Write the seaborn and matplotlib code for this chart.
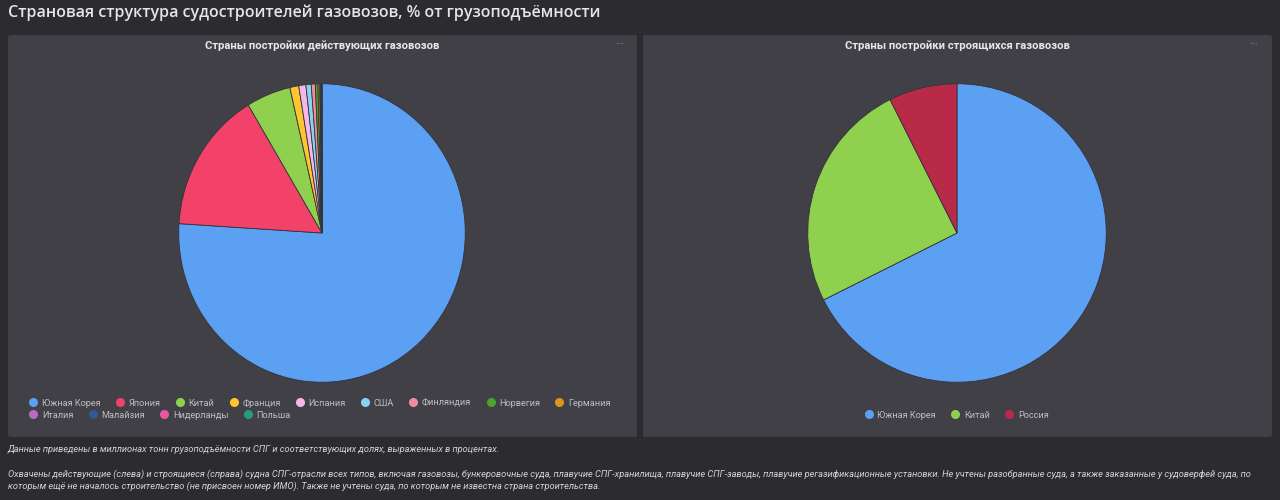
import matplotlib
matplotlib.use("Agg")
import matplotlib.pyplot as plt
import seaborn as sns
from matplotlib.patches import FancyBboxPatch
from matplotlib.lines import Line2D

# ---------------- data ----------------
left_countries = ["Южная Корея", "Япония", "Китай", "Франция", "Испания", "США",
                  "Финляндия", "Норвегия", "Германия", "Италия", "Малайзия",
                  "Нидерланды", "Польша"]
left_values = [76.0, 15.4, 5.0, 1.0, 0.8, 0.6, 0.45, 0.3, 0.2, 0.12, 0.08, 0.03, 0.02]
left_colors = ["#5ba0f2", "#f3426a", "#8fd14f", "#fec52f", "#f7b6e6", "#88d3f4",
               "#f28d9e", "#4ca22b", "#d9961a", "#b56dc4", "#2e5b8f", "#e9589e", "#279b80"]

right_countries = ["Южная Корея", "Китай", "Россия"]
right_values = [67.6, 25.0, 7.4]
right_colors = ["#5ba0f2", "#8fd14f", "#b82a48"]

main_title = "Страновая структура судостроителей газовозов, % от грузоподъёмности"
left_title = "Страны постройки действующих газовозов"
right_title = "Страны постройки строящихся газовозов"
note1 = "Данные приведены в миллионах тонн грузоподъёмности СПГ и соответствующих долях, выраженных в процентах."
note2 = ("Охвачены действующие (слева) и строящиеся (справа) судна СПГ-отрасли всех типов, включая газовозы, "
         "бункеровочные суда, плавучие СПГ-хранилища, плавучие СПГ-заводы, плавучие регазификационные установки. "
         "Не учтены разобранные суда, а также заказанные у судоверфей суда, по")
note3 = ("которым ещё не началось строительство (не присвоен номер ИМО). Также не учтены суда, "
         "по которым не известна страна строительства.")

# ---------------- style ----------------
BG = "#2b2b30"
PANEL = "#414046"
sns.set_theme(style="dark", rc={"figure.facecolor": BG, "axes.facecolor": PANEL})
plt.rcParams["font.family"] = ["Roboto", "DejaVu Sans"]

W, H = 1280, 500
fig = plt.figure(figsize=(W / 100, H / 100), dpi=100)
fig.patch.set_facecolor(BG)

def fx(x):
    return x / W

def fy(y):
    return 1 - y / H

# panels
for (x0, x1) in [(8, 637), (643, 1272)]:
    p = FancyBboxPatch((fx(x0), fy(437)), fx(x1 - x0), (437 - 35) / H,
                       boxstyle="round,pad=0,rounding_size=0.003",
                       transform=fig.transFigure, facecolor=PANEL, edgecolor="none",
                       zorder=-10)
    fig.patches.append(p)
    fig.text(fx(x1 - 18), fy(44), "···", color="#9a9aa0", fontsize=8,
             ha="center", va="center")

fig.text(fx(8), fy(13), main_title, color="#e6e6e6", fontsize=11.55,
         fontweight="semibold", ha="left", va="center", family=["Open Sans", "DejaVu Sans"])
fig.text(fx(322), fy(46), left_title, color="#e8e8e8", fontsize=8.1,
         fontweight="bold", ha="center", va="center")
fig.text(fx(957), fy(46), right_title, color="#e8e8e8", fontsize=8.1,
         fontweight="bold", ha="center", va="center")

def draw_pie(cx, cy, rx, ry, values, colors):
    ax = fig.add_axes([fx(cx - rx), fy(cy + ry), fx(2 * rx), 2 * ry / H], zorder=5)
    ax.pie(values, colors=colors, startangle=90, counterclock=False, radius=1,
           wedgeprops=dict(edgecolor="#33333a", linewidth=0.6))
    ax.set_aspect("auto")
    ax.set_xlim(-1.005, 1.005)
    ax.set_ylim(-1.005, 1.005)
    ax.axis("off")
    return ax

draw_pie(322, 233, 144, 150, left_values, left_colors)
draw_pie(957, 233, 150, 150, right_values, right_colors)

def legend(names, colors, x, y, loc="center left", spacing=1.75):
    handles = [Line2D([0], [0], marker="o", linestyle="none", markersize=5.5,
                      markerfacecolor=c, markeredgecolor=c) for c in colors]
    lg = fig.legend(handles, names, loc=loc, bbox_to_anchor=(fx(x), fy(y)),
                    ncol=len(names), frameon=False, fontsize=6.6,
                    handlelength=0.7, handletextpad=0.6, columnspacing=spacing,
                    borderpad=0, borderaxespad=0, labelcolor="#bdbdc2")
    return lg

legend(left_countries[:9], left_colors[:9], 30, 403)
legend(left_countries[9:], left_colors[9:], 30, 415)
legend(right_countries, right_colors, 957, 415, loc="center")

note_kw = dict(color="#d4d4d8", fontsize=6.7, style="italic", ha="left", va="center")
fig.text(fx(8), fy(450), note1, **note_kw)
fig.text(fx(8), fy(474), note2, **note_kw)
fig.text(fx(8), fy(486), note3, **note_kw)

fig.savefig("out.png", dpi=100, facecolor=BG)
